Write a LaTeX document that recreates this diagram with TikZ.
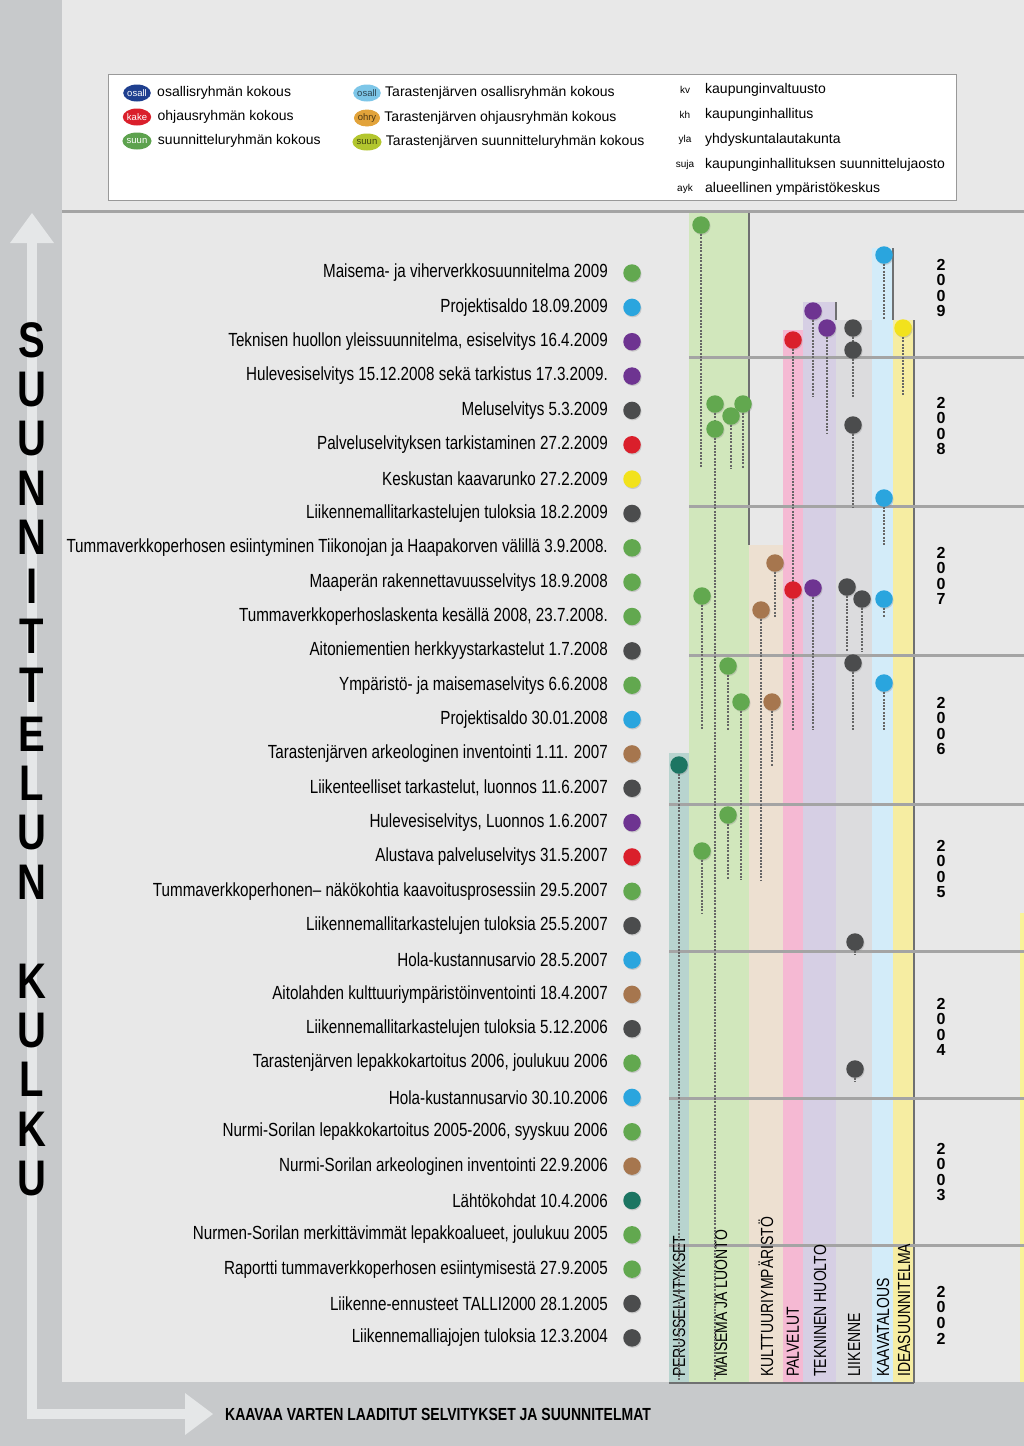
\documentclass[tikz,border=0pt]{standalone}
\usepackage{fontspec}
\setmainfont{Liberation Sans}[FakeStretch=0.8]
\newfontfamily\leveafont{Liberation Sans}
\usetikzlibrary{shapes.geometric,shadows}

\definecolor{ulkoharmaa}{HTML}{C7C9CB}
\definecolor{sisaharmaa}{HTML}{E8E8E8}
\definecolor{viiva}{HTML}{A4A4A4}
\definecolor{nuoli}{HTML}{E5E7E8}
\definecolor{vihrea}{HTML}{62A84F}
\definecolor{sininen}{HTML}{2AA5DE}
\definecolor{violetti}{HTML}{6E3491}
\definecolor{tumma}{HTML}{4B4C4D}
\definecolor{punainen}{HTML}{DA1F2B}
\definecolor{keltainen}{HTML}{F2E21C}
\definecolor{ruskea}{HTML}{A6764E}
\definecolor{turkoosi}{HTML}{1C7562}
\definecolor{merkkisin}{HTML}{1F3F8F}
\definecolor{merkkivihr}{HTML}{5DA24E}
\definecolor{vaaleasin}{HTML}{7DC6E8}
\definecolor{oranssi}{HTML}{E2A33A}
\definecolor{kelvihr}{HTML}{B3C62E}
% sarakkeet
\definecolor{cperus}{HTML}{B8D4CF}
\definecolor{cmaisema}{HTML}{D1E7BC}
\definecolor{ckult}{HTML}{EDE0D1}
\definecolor{cpalv}{HTML}{F5B9D3}
\definecolor{ctekn}{HTML}{D6CFE4}
\definecolor{cliik}{HTML}{DCDCDE}
\definecolor{ckaava}{HTML}{D3ECF9}
\definecolor{cidea}{HTML}{F6EDA2}

\begin{document}
\begin{tikzpicture}[x=1pt,y=-1pt,
  nasta/.style={circle,inner sep=0pt,minimum size=17.5pt,
    drop shadow={opacity=0.3,shadow xshift=0.8pt,shadow yshift=-1.2pt}},
  naru/.style={draw=gray!80!black,line width=2.3pt,dash pattern=on 2pt off 1.3pt},
  vuosiviiva/.style={draw=viiva,line width=3pt},
  reuna/.style={draw=tumma!80,line width=1.3pt},
  kohta/.style={anchor=east,inner sep=0pt,font=\fontsize{19}{22}\selectfont},
  sarake/.style={rotate=90,anchor=west,inner sep=0pt,font=\fontsize{17.5}{19}\selectfont},
  vuosi/.style={align=center,inner sep=0pt,font=\leveafont\bfseries\fontsize{16}{15.6}\selectfont},
  merkki/.style={ellipse,inner sep=0pt,minimum width=26pt,minimum height=17pt,
    font=\leveafont\fontsize{9.5}{10}\selectfont},
  selite/.style={anchor=west,inner sep=0pt,font=\leveafont\fontsize{14}{16}\selectfont},
  kirjain/.style={inner sep=0pt,font=\bfseries\fontsize{50}{50}\selectfont}]
\useasboundingbox (0,0) rectangle (1024,1446);
% tausta
\fill[ulkoharmaa] (0,0) rectangle (1024,1446);
\fill[sisaharmaa] (62,0) rectangle (1024,1382);
\fill[keltainen!45] (1020,913) rectangle (1024,1382);

% nuoli
\fill[nuoli] (27,240) rectangle (37,1419);
\fill[nuoli] (27,1409) rectangle (187,1419);
\fill[nuoli] (10,243) -- (32,213) -- (54,243) -- cycle;
\fill[nuoli] (185,1393) -- (213,1414) -- (185,1435) -- cycle;
\foreach \ch [count=\k] in {S,U,U,N,N,I,T,T,E,L,U,N,{},K,U,L,K,U}
  \node[kirjain] (k\k) at (32,{340+(\k-1)*49.3}) {\ch};
\node[anchor=west,inner sep=0pt,font=\bfseries\fontsize{17.5}{19}\selectfont] (alaotsikko)
  at (225,1414) {KAAVAA VARTEN LAADITUT SELVITYKSET JA SUUNNITELMAT};

% selite
\node[draw=gray!80,fill=white,line width=1pt,anchor=north west,inner sep=0pt,
  minimum width=848pt,minimum height=126pt] (selitelaatikko) at (108,74) {};
\foreach \x/\y/\c/\lyh/\teksti [count=\k] in {
  137/93/merkkisin/osall/osallisryhmän kokous,
  137/117/punainen/kake/ohjausryhmän kokous,
  137/141/merkkivihr/suun/suunnitteluryhmän kokous}
{
  \node[merkki,fill=\c,text=white] (m\k) at (\x,\y) {\lyh};
  \node[selite] (mt\k) at ([xshift=6pt]m\k.east) {\teksti};
}
\foreach \x/\y/\c/\lyh/\teksti [count=\k] in {
  367/93/vaaleasin/osall/Tarastenjärven osallisryhmän kokous,
  367/118/oranssi/ohry/Tarastenjärven ohjausryhmän kokous,
  367/142/kelvihr/suun/Tarastenjärven suunnitteluryhmän kokous}
{
  \node[merkki,fill=\c,text=\c!35!black] (tm\k) at (\x,\y) {\lyh};
  \node[selite] (tmt\k) at ([xshift=4pt]tm\k.east) {\teksti};
}
\foreach \lyh/\teksti/\y [count=\k] in {
  kv/kaupunginvaltuusto/90, kh/kaupunginhallitus/115,
  yla/yhdyskuntalautakunta/140, suja/kaupunginhallituksen suunnittelujaosto/165,
  ayk/alueellinen ympäristökeskus/189}
{
  \node[inner sep=0pt,font=\leveafont\fontsize{10}{12}\selectfont] (l\k) at (685,\y) {\lyh};
  \node[selite] (lt\k) at (705,\y) {\teksti};
}
\draw[vuosiviiva] (62,211) -- (1024,211);

% sarakkeet
\foreach \xa/\xb/\yt/\c in {669/689/753/cperus, 689/749/213/cmaisema,
  749/783/545/ckult, 783/803/330/cpalv, 803/836/302/ctekn,
  836/872/320/cliik, 872/893/248/ckaava, 893/914/320/cidea}
  \fill[\c] (\xa,\yt) rectangle (\xb,1383);
\draw[reuna] (749,213) -- (749,545);
\draw[reuna] (836,302) -- (836,320);
\draw[reuna] (893,248) -- (893,320);
\draw[reuna] (914,320) -- (914,1383);
\draw[reuna] (669,1383) -- (914,1383);

% vuodet
\foreach \y/\xa in {357/689,506/689,655/689,804/669,951/669,1098/669,1245/669}
  \draw[vuosiviiva] (\xa,\y) -- (1024,\y);
\foreach \v/\y [count=\k] in {{2\\0\\0\\9}/288, {2\\0\\0\\8}/426, {2\\0\\0\\7}/576,
  {2\\0\\0\\6}/726, {2\\0\\0\\5}/869, {2\\0\\0\\4}/1027, {2\\0\\0\\3}/1172, {2\\0\\0\\2}/1315}
  \node[vuosi] (v\k) at (941,\y) {\v};

\foreach \x/\nimi [count=\k] in {679/PERUSSELVITYKSET, 721/MAISEMA JA LUONTO,
  766/KULTTUURIYMPÄRISTÖ, 793/PALVELUT, 820/TEKNINEN HUOLTO, 854/LIIKENNE,
  883/KAAVATALOUS, 904/IDEASUUNNITELMA}
  \node[sarake] (s\k) at (\x,1377) {\nimi};

% nastat
\foreach \x/\y/\loppu/\c [count=\k] in {
  701/225/468/vihrea, 884/255/320/sininen, 813/311/397/violetti,
  827/328/433/violetti, 853/328/350/tumma, 903/328/395/keltainen,
  793/340/590/punainen, 853/350/397/tumma, 715/404/429/vihrea,
  743/404/468/vihrea, 731/416/468/vihrea, 853/425/507/tumma,
  715/429/1380/vihrea, 884/498/545/sininen, 775/563/617/ruskea,
  847/587/652/tumma, 813/588/730/violetti, 793/590/730/punainen,
  702/596/730/vihrea, 862/599/652/tumma, 884/599/617/sininen,
  761/610/880/ruskea, 853/663/730/tumma, 728/666/730/vihrea,
  884/683/730/sininen, 741/702/880/vihrea, 772/702/767/ruskea,
  679/765/1380/turkoosi, 728/815/880/vihrea, 702/851/913/vihrea,
  855/942/955/tumma, 855/1069/1082/tumma}
{
  \coordinate (n\k) at (\x,\loppu);
  \node[nasta,fill=\c] (p\k) at (\x,\y) {};
  \draw[naru] (p\k) -- (n\k);
}

% luettelo
\foreach \teksti/\c [count=\k] in {
  Maisema- ja viherverkkosuunnitelma 2009/vihrea,
  Projektisaldo 18.09.2009/sininen,
  {Teknisen huollon yleissuunnitelma, esiselvitys 16.4.2009}/violetti,
  Hulevesiselvitys 15.12.2008 sekä tarkistus 17.3.2009./violetti,
  Meluselvitys 5.3.2009/tumma,
  Palveluselvityksen tarkistaminen 27.2.2009/punainen,
  Keskustan kaavarunko 27.2.2009/keltainen,
  Liikennemallitarkastelujen tuloksia 18.2.2009/tumma,
  Tummaverkkoperhosen esiintyminen Tiikonojan ja Haapakorven välillä 3.9.2008./vihrea,
  Maaperän rakennettavuusselvitys 18.9.2008/vihrea,
  {Tummaverkkoperhoslaskenta kesällä 2008, 23.7.2008.}/vihrea,
  Aitoniementien herkkyystarkastelut 1.7.2008/tumma,
  Ympäristö- ja maisemaselvitys 6.6.2008/vihrea,
  Projektisaldo 30.01.2008/sininen,
  Tarastenjärven arkeologinen inventointi 1.11. 2007/ruskea,
  {Liikenteelliset tarkastelut, luonnos 11.6.2007}/tumma,
  {Hulevesiselvitys, Luonnos 1.6.2007}/violetti,
  Alustava palveluselvitys 31.5.2007/punainen,
  Tummaverkkoperhonen– näkökohtia kaavoitusprosessiin 29.5.2007/vihrea,
  Liikennemallitarkastelujen tuloksia 25.5.2007/tumma,
  Hola-kustannusarvio 28.5.2007/sininen,
  Aitolahden kulttuuriympäristöinventointi 18.4.2007/ruskea,
  Liikennemallitarkastelujen tuloksia 5.12.2006/tumma,
  {Tarastenjärven lepakkokartoitus 2006, joulukuu 2006}/vihrea,
  Hola-kustannusarvio 30.10.2006/sininen,
  {Nurmi-Sorilan lepakkokartoitus 2005-2006, syyskuu 2006}/vihrea,
  Nurmi-Sorilan arkeologinen inventointi 22.9.2006/ruskea,
  Lähtökohdat 10.4.2006/turkoosi,
  {Nurmen-Sorilan merkittävimmät lepakkoalueet, joulukuu 2005}/vihrea,
  Raportti tummaverkkoperhosen esiintymisestä 27.9.2005/vihrea,
  Liikenne-ennusteet TALLI2000 28.1.2005/tumma,
  Liikennemalliajojen tuloksia 12.3.2004/tumma}
{
  \node[kohta] (t\k) at (608,{273+(\k-1)*34.35}) {\teksti};
  \node[nasta,fill=\c] (d\k) at (632,{273+(\k-1)*34.35}) {};
}
\end{tikzpicture}
\end{document}
